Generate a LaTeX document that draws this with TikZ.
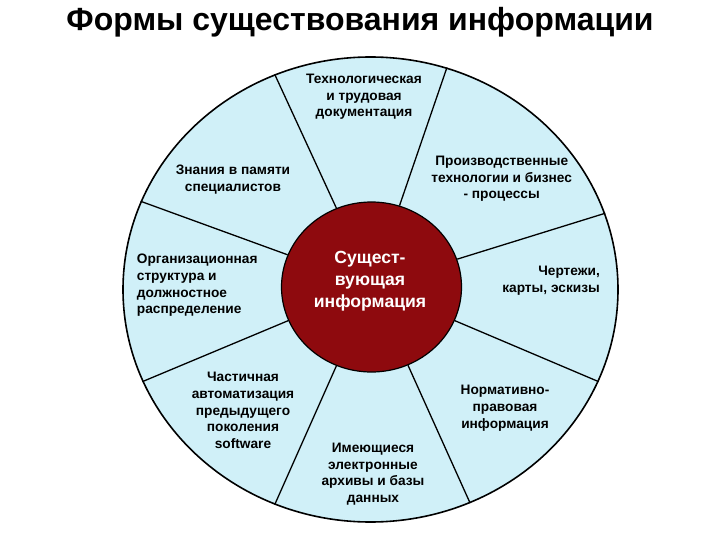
\documentclass[tikz,border=0pt]{standalone}
\usepackage{fontspec}
\setmainfont{Liberation Sans}
\usetikzlibrary{shapes.geometric}
\definecolor{wheelfill}{RGB}{208,240,248}
\definecolor{corefill}{RGB}{142,10,14}

\begin{document}
\begin{tikzpicture}[x=1pt,y=-1pt,
  sector/.style={align=center,inner sep=0pt,font=\fontsize{13.7}{16.6}\selectfont\bfseries},
  spoke/.style={line width=1.3pt},
  every node/.style={inner sep=0pt}]
\useasboundingbox (0,0) rectangle (720,540);
\node[font=\fontsize{32}{36}\selectfont\bfseries] (title) at (360,22) {Формы существования информации};
\node[draw,line width=1.6pt,ellipse,fill=wheelfill,minimum width=495pt,minimum height=465pt] (wheel) at (370.5,289.5) {};
\node[draw,line width=1.2pt,ellipse,fill=corefill,minimum width=180pt,minimum height=170pt] (core) at (371.5,287) {};
\node[text=white,align=center,font=\fontsize{17.6}{22}\selectfont\bfseries] (coretext) at (370,281) {Сущест-\\вующая\\информация};
\foreach \a in {114,71,18,-22,-65,-114,-158,159}
  \draw[spoke] (core.\a) -- (wheel.\a);
\node[sector] (docs) at (364,97) {Технологическая\\и трудовая\\документация};
\node[sector] (memory) at (233,179.5) {Знания в памяти\\специалистов};
\node[sector] (process) at (501.7,178.8) {Производственные\\технологии и бизнес\\- процессы};
\node[sector,anchor=west,align=left] (orgs) at (136.7,285.5) {Организационная\\структура и\\должностное\\распределение};
\node[sector,anchor=east,align=right] (maps) at (600,280.5) {Чертежи,\\карты, эскизы};
\node[sector] (legacy) at (243,410.5) {Частичная\\автоматизация\\предыдущего\\поколения\\software};
\node[sector] (archive) at (373,474) {Имеющиеся\\электронные\\архивы и базы\\данных};
\node[sector] (norms) at (505,408.3) {Нормативно-\\правовая\\информация};
\end{tikzpicture}
\end{document}
